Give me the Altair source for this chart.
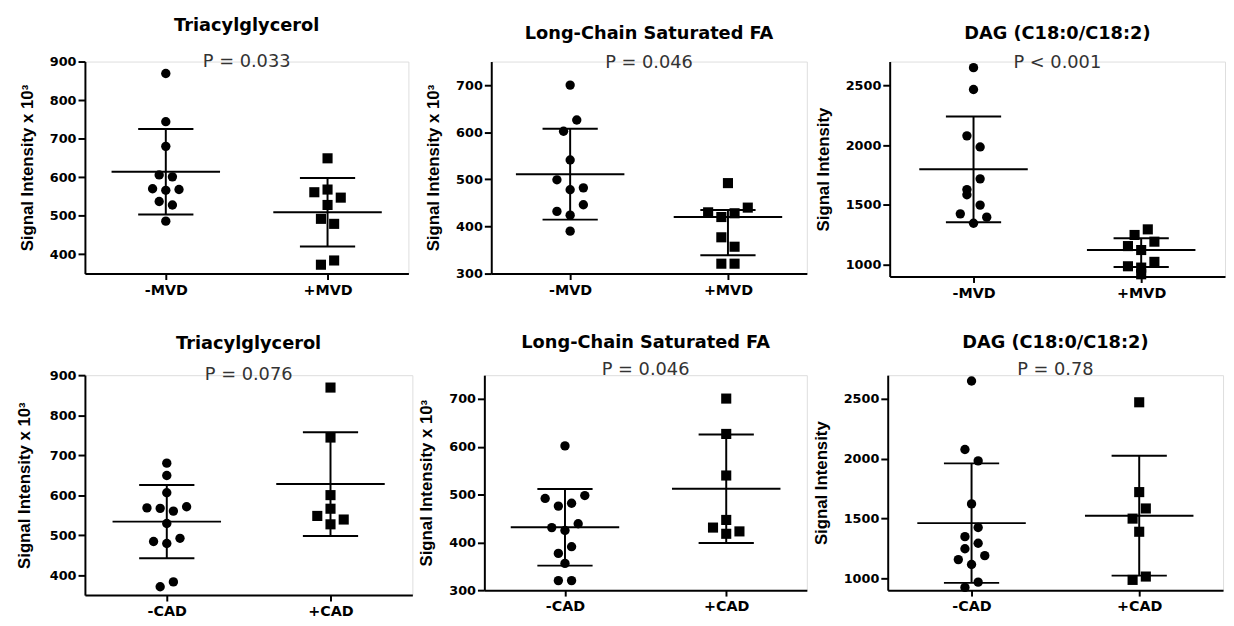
import numpy as np
import pandas as pd
import altair as alt

# ---------------- data ----------------
PANEL_TITLES = ["Triacylglycerol", "Long-Chain Saturated FA", "DAG (C18:0/C18:2)",
                "Triacylglycerol", "Long-Chain Saturated FA", "DAG (C18:0/C18:2)"]
P_VALUES = ["P = 0.033", "P = 0.046", "P < 0.001", "P = 0.076", "P = 0.046", "P = 0.78"]
Y_TITLES = ["Signal Intensity x 10³", "Signal Intensity x 10³", "Signal Intensity",
            "Signal Intensity x 10³", "Signal Intensity x 10³", "Signal Intensity"]
MVD_GROUPS = ["-MVD", "+MVD"]
CAD_GROUPS = ["-CAD", "+CAD"]

TAG_MVD_NEG = [869, 744, 680, 606, 601, 570, 566, 568, 537, 528, 486]
TAG_MVD_POS = [649, 561, 568, 547, 528, 492, 479, 373, 384]
LCFA_MVD_NEG = [700, 602, 626, 541, 499, 478, 482, 432, 424, 446, 390]
LCFA_MVD_POS = [492, 430, 420, 428, 440, 377, 357, 321, 321]
DAG_MVD_NEG = [2649, 2466, 2078, 1985, 1628, 1718, 1585, 1498, 1425, 1346, 1397]
DAG_MVD_POS = [1248, 1295, 1155, 1122, 1192, 986, 975, 1023, 919]

TAG_CAD_NEG = [680, 649, 606, 568, 567, 560, 571, 529, 484, 479, 492, 371, 383]
TAG_CAD_POS = [869, 744, 600, 548, 566, 539, 527]
LCFA_CAD_NEG = [602, 492, 476, 482, 498, 431, 425, 439, 377, 391, 356, 320, 320]
LCFA_CAD_POS = [701, 627, 540, 431, 447, 423, 418]
DAG_CAD_NEG = [2651, 2078, 1982, 1622, 1348, 1425, 1247, 1293, 1156, 1115, 1189, 923, 967]
DAG_CAD_POS = [2473, 1721, 1499, 1584, 1389, 986, 1014]

VALUES = [
    (TAG_MVD_NEG, TAG_MVD_POS), (LCFA_MVD_NEG, LCFA_MVD_POS), (DAG_MVD_NEG, DAG_MVD_POS),
    (TAG_CAD_NEG, TAG_CAD_POS), (LCFA_CAD_NEG, LCFA_CAD_POS), (DAG_CAD_NEG, DAG_CAD_POS),
]
GROUPS = [MVD_GROUPS, MVD_GROUPS, MVD_GROUPS, CAD_GROUPS, CAD_GROUPS, CAD_GROUPS]
# summary shown for each group: mean +/- SD, or median with interquartile range
SUMMARY = [("mean", "mean"), ("mean", "median"), ("mean", "median"),
           ("mean", "mean"), ("mean", "mean"), ("mean", "mean")]

Y_DOMAINS = [[350, 900], [300, 750], [900, 2700], [350, 900], [300, 750], [900, 2700]]
Y_TICKS = [[400, 500, 600, 700, 800, 900], [300, 400, 500, 600, 700], [1000, 1500, 2000, 2500],
           [400, 500, 600, 700, 800, 900], [300, 400, 500, 600, 700], [1000, 1500, 2000, 2500]]

# ---------------- layout / style ----------------
WIDTHS = [328, 320, 340, 332, 327, 340]
HEIGHTS = [215, 215, 218, 223, 218, 218]
TITLE_OFFSET = [-16, -11, -11, -15, -4, -4]
SUB_PAD = [19, 12, 12, 14, 10, 10]
Y_TITLE_PAD = [13, 13, 13, 16, 13, 13]
MEAN_HALF_PX = 55
CAP_HALF_PX = 28
ROW_PX = 12.2
STEP_PX = 13.4


def swarm_offsets(vals, ppu):
    order = sorted(range(len(vals)), key=lambda k: -vals[k])
    bins = []
    for k in order:
        if bins and (vals[bins[-1][0]] - vals[k]) * ppu <= ROW_PX:
            bins[-1].append(k)
        else:
            bins.append([k])
    offs = [0.0] * len(vals)
    for b in bins:
        b = sorted(b)
        n = len(b)
        for j, k in enumerate(b):
            offs[k] = (j - (n - 1) / 2) * STEP_PX
    return offs


def summary(vals, kind):
    a = np.array(vals, dtype=float)
    if kind == "median":
        return (float(np.median(a)),
                float(np.percentile(a, 25, method="weibull")),
                float(np.percentile(a, 75, method="weibull")))
    m = float(a.mean())
    s = float(a.std(ddof=1))
    return m, m - s, m + s


def panel(i):
    w, h = WIDTHS[i], HEIGHTS[i]
    cats = GROUPS[i]
    d0, d1 = Y_DOMAINS[i]
    ppu = h / (d1 - d0)
    upp = 2.0 / w  # x units per pixel
    pts, stats, caps = [], [], []
    for g, vals in enumerate(VALUES[i]):
        offs = swarm_offsets(vals, ppu)
        for v, o in zip(vals, offs):
            pts.append({"grp": cats[g], "xpos": g + o * upp, "value": v,
                        "shp": "circle" if g == 0 else "square",
                        "sz": 90 if g == 0 else 105})
        c, lo, hi = summary(vals, SUMMARY[i][g])
        stats.append({"gi": g, "c": c, "lo": lo, "hi": hi,
                      "m1": g - MEAN_HALF_PX * upp, "m2": g + MEAN_HALF_PX * upp})
        for yv in (lo, hi):
            caps.append({"yv": yv, "c1": g - CAP_HALF_PX * upp, "c2": g + CAP_HALF_PX * upp})
    pts = pd.DataFrame(pts)
    stats = pd.DataFrame(stats)
    caps = pd.DataFrame(caps)

    xs = alt.Scale(domain=[-0.5, 1.5], nice=False, zero=False)
    ys = alt.Scale(domain=Y_DOMAINS[i], nice=False, zero=False)
    xaxis = alt.Axis(values=[0, 1],
                     labelExpr=f"datum.value === 0 ? '{cats[0]}' : '{cats[1]}'",
                     grid=False, domainColor="black", domainWidth=2,
                     tickColor="black", tickWidth=2, tickSize=6,
                     labelFont="DejaVu Sans", labelFontWeight="bold", labelFontSize=14.5,
                     labelColor="black", labelPadding=4, labelOverlap=False)
    yaxis = alt.Axis(values=Y_TICKS[i], format="d", grid=False,
                     domainColor="black", domainWidth=2,
                     tickColor="black", tickWidth=2, tickSize=7,
                     labelFont="DejaVu Sans", labelFontWeight="bold", labelFontSize=13,
                     labelColor="black", labelPadding=2, labelOverlap=False,
                     titleFont="Liberation Sans", titleFontWeight="bold", titleFontSize=17,
                     titleColor="black", titlePadding=Y_TITLE_PAD[i])

    def X(f):
        return alt.X(f, scale=xs, axis=xaxis, title=None)

    def Y(f):
        return alt.Y(f, scale=ys, axis=yaxis, title=Y_TITLES[i])

    vline = alt.Chart(stats).mark_rule(color="black", strokeWidth=2).encode(
        x=X("gi:Q"), y=Y("lo:Q"), y2="hi:Q")
    mline = alt.Chart(stats).mark_rule(color="black", strokeWidth=2).encode(
        x=X("m1:Q"), x2="m2:Q", y=Y("c:Q"))
    cline = alt.Chart(caps).mark_rule(color="black", strokeWidth=2).encode(
        x=X("c1:Q"), x2="c2:Q", y=Y("yv:Q"))
    dots = alt.Chart(pts).mark_point(filled=True, color="black", opacity=1, strokeWidth=0).encode(
        x=X("xpos:Q"), y=Y("value:Q"),
        shape=alt.Shape("shp:N", scale=None),
        size=alt.Size("sz:Q", scale=None))

    return alt.layer(vline, mline, cline, dots).properties(
        width=w, height=h,
        title=alt.TitleParams(
            text=PANEL_TITLES[i], subtitle=P_VALUES[i], anchor="middle",
            font="DejaVu Sans", fontSize=18, fontWeight="bold", color="black",
            subtitleFont="DejaVu Sans", subtitleFontSize=18, subtitleFontWeight="normal",
            subtitleColor="#333333", subtitlePadding=SUB_PAD[i], offset=TITLE_OFFSET[i]))


P = [panel(i) for i in range(6)]
top = alt.hconcat(alt.hconcat(P[0], P[1], spacing=15), P[2], spacing=6)
bottom = alt.hconcat(alt.hconcat(P[3], P[4], spacing=4), P[5], spacing=4)
chart = alt.vconcat(top, bottom, spacing=33).properties(
    padding={"left": 7, "top": 4, "right": 0, "bottom": 0}
).configure_view(stroke=None).configure(background="white")

chart.save("out.html", embed_options={"renderer": "svg", "actions": False})
